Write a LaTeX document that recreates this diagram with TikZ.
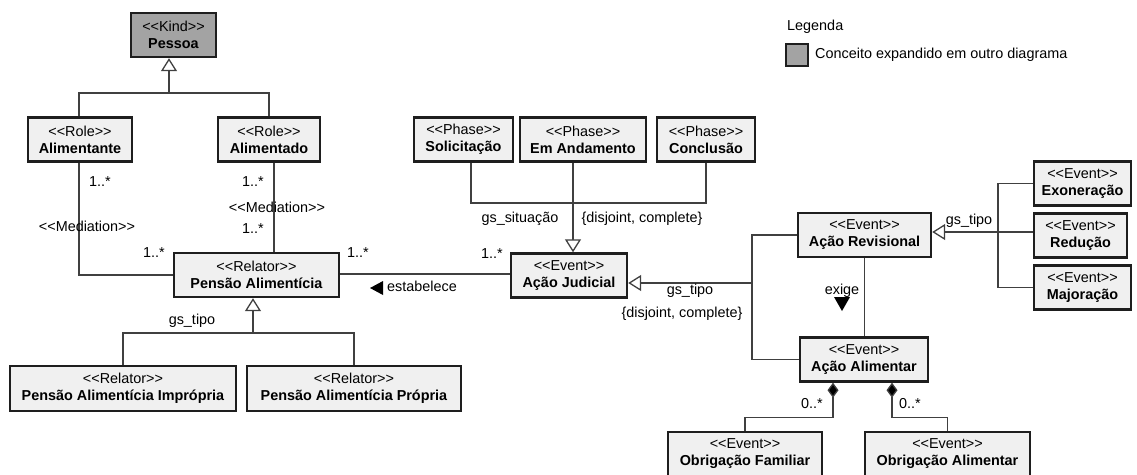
\documentclass[tikz,border=0pt]{standalone}
\usepackage{fontspec}
\setmainfont{Liberation Sans}
\usetikzlibrary{arrows.meta}

\definecolor{boxfill}{HTML}{F0F0F0}
\definecolor{extfill}{HTML}{A3A3A3}
\definecolor{linecol}{HTML}{404040}
\definecolor{edgecol}{HTML}{1E1E1E}

% UML stereotype, written so that no guillemet ligature is formed
\newcommand{\stereo}[1]{<{}<#1>{}>}

\begin{document}
\begin{tikzpicture}[x=1pt,y=-1pt,
  font=\fontsize{14.4}{17}\selectfont,
  cls/.style={draw=edgecol, line width=2.4pt, fill=boxfill, inner sep=0pt,
              align=center, minimum height=44pt},
  ext/.style={cls, fill=extfill},
  conn/.style={draw=linecol, line width=1.3pt},
  gen/.style={conn, -{Triangle[open,length=13pt,width=16pt,fill=white]}},
  comp/.style={conn, {Diamond[length=15pt,width=11pt,fill=black]}-},
  lbl/.style={inner sep=0pt, text height=10.5pt, text depth=3pt}
]
\useasboundingbox (0,0) rectangle (1137,474);

% ---------- classes ----------
\node[ext, minimum width=85pt]  (pessoa)      at (173.5,35)   {\stereo{Kind}\\\textbf{Pessoa}};
\node[cls, minimum width=104pt] (alimentante) at (80,139.5)   {\stereo{Role}\\\textbf{Alimentante}};
\node[cls, minimum width=102pt] (alimentado)  at (269,139.5)  {\stereo{Role}\\\textbf{Alimentado}};
\node[cls, minimum width=165pt] (pensao)      at (256.5,275)  {\stereo{Relator}\\\textbf{Pensão Alimentícia}};
\node[cls, minimum width=226pt, minimum height=45pt] (impropria) at (123,388.5) {\stereo{Relator}\\\textbf{Pensão Alimentícia Imprópria}};
\node[cls, minimum width=214pt, minimum height=45pt] (propria)   at (354,388.5) {\stereo{Relator}\\\textbf{Pensão Alimentícia Própria}};

\node[cls, minimum width=99pt]  (sol)   at (463.5,139.5) {\stereo{Phase}\\\textbf{Solicitação}};
\node[cls, minimum width=126pt] (anda)  at (583,139.5)   {\stereo{Phase}\\\textbf{Em Andamento}};
\node[cls, minimum width=98pt]  (concl) at (706,139.5)   {\stereo{Phase}\\\textbf{Conclusão}};

\node[cls, minimum width=116pt] (judicial)   at (569,275.5)  {\stereo{Event}\\\textbf{Ação Judicial}};
\node[cls, minimum width=133pt] (revisional) at (864.5,235)  {\stereo{Event}\\\textbf{Ação Revisional}};
\node[cls, minimum width=97pt]  (exo)        at (1082.5,183.5) {\stereo{Event}\\\textbf{Exoneração}};
\node[cls, minimum width=93pt]  (red)        at (1080.5,235.5) {\stereo{Event}\\\textbf{Redução}};
\node[cls, minimum width=97pt]  (maj)        at (1082.5,287.5) {\stereo{Event}\\\textbf{Majoração}};
\node[cls, minimum width=128pt] (alimentar)  at (864,359.5)  {\stereo{Event}\\\textbf{Ação Alimentar}};
\node[cls, minimum width=154pt] (famil)      at (745,454)    {\stereo{Event}\\\textbf{Obrigação Familiar}};
\node[cls, minimum width=165pt] (obalim)     at (947.5,454)  {\stereo{Event}\\\textbf{Obrigação Alimentar}};

% ---------- generalization of Pessoa ----------
\coordinate (g1) at (169,93);
\draw[conn] ([xshift=-1pt]alimentante.north) |- (g1) -| (alimentado.north);
\draw[gen] (g1) -- (g1 |- pessoa.south);

% ---------- mediations ----------
\draw[conn] ([xshift=-1pt]alimentante.south) |- (pensao.west);
\coordinate (m2) at ([xshift=5pt]alimentado.south);
\draw[conn] (m2) -- (m2 |- pensao.north);
\node[lbl] at (100,183) {1..*};
\node[lbl] at (87,228)  {\stereo{Mediation}};
\node[lbl] at (154,254) {1..*};
\node[lbl] at (253,183) {1..*};
\node[lbl] at (277,209) {\stereo{Mediation}};
\node[lbl] at (253,230) {1..*};

% ---------- generalization of Pensão Alimentícia ----------
\coordinate (g5) at (253,333);
\draw[conn] (impropria.north) |- (g5) -| (propria.north);
\draw[gen] (g5) -- (g5 |- pensao.south);
\node[lbl] at (192,321) {gs\_tipo};

% ---------- estabelece ----------
\draw[conn] ([yshift=1pt]pensao.east) -- ([yshift=1pt]pensao.east -| judicial.west);
\node[lbl] at (358,254) {1..*};
\node[lbl] at (492,255) {1..*};
\node[lbl, anchor=west] (est) at (387,288) {estabelece};
\fill[black] (370,288) -- (383,281) -- (383,295) -- cycle;

% ---------- phases of Ação Judicial ----------
\coordinate (g2) at (573,203);
\draw[conn] ([xshift=7.5pt]sol.south) |- (g2);
\draw[conn] (concl.south) |- (g2);
\draw[conn] ([xshift=-10pt]anda.south) -- (g2);
\draw[gen] (g2) -- (g2 |- judicial.north);
\node[lbl] at (520,219) {gs\_situação};
\node[lbl] at (642,219) {\{disjoint, complete\}};

% ---------- generalization of Ação Judicial ----------
\coordinate (g3) at (752,283);
\draw[conn] (revisional.west) -| (g3) |- (alimentar.west);
\draw[gen] (g3) -- (g3 -| judicial.east);
\node[lbl] at (690,291) {gs\_tipo};
\node[lbl] at (682,314) {\{disjoint, complete\}};

% ---------- generalization of Ação Revisional ----------
\coordinate (g4) at (998,232);
\draw[conn] (exo.west) -| (g4) |- (maj.west);
\draw[conn] (g4) -- (g4 -| red.west);
\draw[gen] (g4) -- (g4 -| revisional.east);
\node[lbl] at (969,221) {gs\_tipo};

% ---------- exige ----------
\draw[conn] (revisional.south) -- (revisional.south |- alimentar.north);
\node[lbl] (exige) at (842,291) {exige};
\fill[black] (834,297) -- (850,297) -- (842,311) -- cycle;

% ---------- compositions of Ação Alimentar ----------
\draw[comp] ([xshift=-31pt]alimentar.south) -- ++(0,35) -| (famil.north);
\draw[comp] ([xshift=28pt]alimentar.south) -- ++(0,35) -| (obalim.north);
\node[lbl] at (812,405) {0..*};
\node[lbl] at (910,405) {0..*};

% ---------- legend ----------
\node[lbl, anchor=west] (leg) at (787,27) {Legenda};
\node[draw=edgecol, fill=extfill, line width=2pt, minimum size=22pt, inner sep=0pt] (legsq) at (797,55) {};
\node[lbl, anchor=west] (legtxt) at (815,55) {Conceito expandido em outro diagrama};
\end{tikzpicture}
\end{document}
